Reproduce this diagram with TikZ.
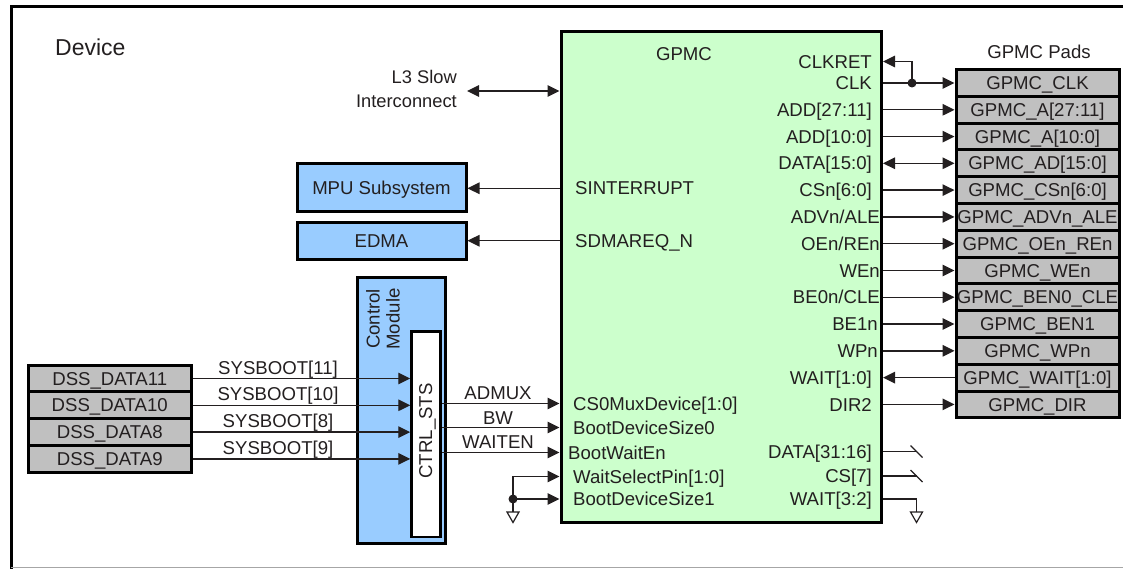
\documentclass[tikz,border=0pt]{standalone}
\usepackage{fontspec}
\setmainfont{Liberation Sans}
\usetikzlibrary{arrows.meta}
\definecolor{ink}{HTML}{231F20}
\definecolor{gpmcgreen}{HTML}{CCFFCC}
\definecolor{modblue}{HTML}{99CCFF}
\definecolor{padgray}{HTML}{C0C0C0}
\begin{document}
\begin{tikzpicture}[x=1pt,y=-1pt,
  font=\fontsize{18.6}{20}\selectfont, text=ink,
  lbl/.style={inner sep=0pt, text height=13.3pt, text depth=0pt},
  box/.style={draw=black, line width=3pt, inner sep=0pt, text height=13.3pt, text depth=0pt},
  pad/.style={box, fill=padgray, minimum width=163pt, minimum height=26.8pt},
  dss/.style={box, fill=padgray, minimum width=163.5pt, minimum height=26.8pt},
  wire/.style={draw=ink, line width=1.4pt},
  arr/.style={wire, -{Triangle[length=12pt,width=11.5pt]}},
  darr/.style={wire, {Triangle[length=12pt,width=11.5pt]}-{Triangle[length=12pt,width=11.5pt]}},
  gnd/.style={draw=ink, line width=1.2pt, fill=white},
  slash/.style={draw=ink, line width=1.2pt},
]
\useasboundingbox (0,0) rectangle (1123,569);
% device frame
\draw[line width=3pt] (1124,7) -- (11,7) -- (11,570);
\draw[black!35, line width=1.5pt] (11,567.5) -- (1124,567.5);
\node[inner sep=0pt, anchor=west, font=\fontsize{23}{25}\selectfont, text height=16.5pt, text depth=0pt] (dev) at (55,47) {Device};

% GPMC block
\node[box, fill=gpmcgreen, minimum width=320.5pt, minimum height=491pt] (gpmc) at (721.25,277) {};
\node[lbl] (gpmct) at (684,54) {GPMC};

% pads
\node[lbl] (padst) at (1039,52) {GPMC Pads};
\node[pad] (pclk)  at (1037.5,83.0)  {GPMC\_CLK};
\node[pad] (pa1)   at (1037.5,109.8) {GPMC\_A[27:11]};
\node[pad] (pa0)   at (1037.5,136.6) {GPMC\_A[10:0]};
\node[pad] (pad)   at (1037.5,163.3) {GPMC\_AD[15:0]};
\node[pad] (pcs)   at (1037.5,190.1) {GPMC\_CSn[6:0]};
\node[pad] (padv)  at (1037.5,216.9) {GPMC\_ADVn\_ALE};
\node[pad] (poe)   at (1037.5,243.7) {GPMC\_OEn\_REn};
\node[pad] (pwe)   at (1037.5,270.5) {GPMC\_WEn};
\node[pad] (pben0) at (1037.5,297.2) {GPMC\_BEN0\_CLE};
\node[pad] (pben1) at (1037.5,324.0) {GPMC\_BEN1};
\node[pad] (pwp)   at (1037.5,350.8) {GPMC\_WPn};
\node[pad] (pwait) at (1037.5,377.6) {GPMC\_WAIT[1:0]};
\node[pad] (pdir)  at (1037.5,404.4) {GPMC\_DIR};

% GPMC right pin labels
\node[lbl, anchor=east] (lclkret) at (872,61.5)  {CLKRET};
\node[lbl, anchor=east] (lclk)    at (872,83.0)  {CLK};
\node[lbl, anchor=east] (la1)     at (872,109.8) {ADD[27:11]};
\node[lbl, anchor=east] (la0)     at (872,136.6) {ADD[10:0]};
\node[lbl, anchor=east] (ld)      at (872,163.3) {DATA[15:0]};
\node[lbl, anchor=east] (lcs)     at (872,190.1) {CSn[6:0]};
\node[lbl, anchor=east] (ladv)    at (880,216.9) {ADVn/ALE};
\node[lbl, anchor=east] (loe)     at (880,243.7) {OEn/REn};
\node[lbl, anchor=east] (lwe)     at (880,270.5) {WEn};
\node[lbl, anchor=east] (lben0)   at (880,297.2) {BE0n/CLE};
\node[lbl, anchor=east] (lben1)   at (878,324.0) {BE1n};
\node[lbl, anchor=east] (lwp)     at (878,350.8) {WPn};
\node[lbl, anchor=east] (lwait)   at (872,377.6) {WAIT[1:0]};
\node[lbl, anchor=east] (ldir)    at (872,404.4) {DIR2};
\node[lbl, anchor=east] (ld2)     at (872,451.5) {DATA[31:16]};
\node[lbl, anchor=east] (lcs7)    at (872,476)   {CS[7]};
\node[lbl, anchor=east] (lw32)    at (872,499)   {WAIT[3:2]};

% right connectors
\coordinate (clkj) at (912,83);
\draw[arr] (gpmc.east |- pclk) -- (pclk.west);
\draw[arr] (clkj) |- (gpmc.east |- lclkret);
\fill[ink] (clkj) circle (4.5pt);
\draw[arr] (gpmc.east |- pa1) -- (pa1.west);
\draw[arr] (gpmc.east |- pa0) -- (pa0.west);
\draw[darr] (gpmc.east |- pad) -- (pad.west);
\draw[arr] (gpmc.east |- pcs) -- (pcs.west);
\draw[arr] (gpmc.east |- padv) -- (padv.west);
\draw[arr] (gpmc.east |- poe) -- (poe.west);
\draw[arr] (gpmc.east |- pwe) -- (pwe.west);
\draw[arr] (gpmc.east |- pben0) -- (pben0.west);
\draw[arr] (gpmc.east |- pben1) -- (pben1.west);
\draw[arr] (gpmc.east |- pwp) -- (pwp.west);
\draw[arr] (pwait.west) -- (gpmc.east |- pwait);
\draw[arr] (gpmc.east |- pdir) -- (pdir.west);

% unconnected outputs
\coordinate (sw1) at (916.5,451.5);
\coordinate (sw2) at (916.5,476);
\draw[wire] (gpmc.east |- sw1) -- (sw1);
\draw[slash] (sw1) ++(-6,-6) -- ++(12,12);
\draw[wire] (gpmc.east |- sw2) -- (sw2);
\draw[slash] (sw2) ++(-6,-6) -- ++(12,12);
\coordinate (rg) at (916.5,499);
\draw[wire] (gpmc.east |- lw32) -- (rg) -- ++(0,13) coordinate (g2);
\draw[gnd] (g2) ++(-6,0) -- ++(12,0) -- ++(-6,10.5) -- cycle;

% L3 interconnect
\node[inner sep=0pt, align=right, anchor=east, font=\fontsize{18.3}{24}\selectfont] (l3) at (457,89) {L3 Slow\\Interconnect};
\coordinate (l3end) at (467,91);
\draw[darr] (l3end) -- (gpmc.west |- l3end);

% MPU / EDMA
\node[box, fill=modblue, minimum width=169pt, minimum height=48pt] (mpu) at (381.5,187.5) {MPU Subsystem};
\node[box, fill=modblue, minimum width=169pt, minimum height=37pt] (edma) at (381.5,241) {EDMA};
\node[lbl, anchor=west] (sint) at (575,188.3) {SINTERRUPT};
\node[lbl, anchor=west] (sdma) at (575,240.7) {SDMAREQ\_N};
\draw[arr] (gpmc.west |- sint) -- (mpu.east |- sint);
\draw[arr] (gpmc.west |- sdma) -- (edma.east |- sdma);

% control module
\node[box, fill=modblue, minimum width=88pt, minimum height=266pt] (cm) at (401,410) {};
\node[inner sep=0pt, rotate=90, align=center] (cmt) at (383,319) {Control\\Module};
\node[draw=black, line width=2.5pt, fill=white, inner sep=0pt, minimum width=29pt, minimum height=205.5pt] (ctrl) at (426,434.25) {};
\node[lbl, rotate=90] (ctrlt) at (425.5,431) {CTRL\_STS};

% DSS pads
\node[dss] (d11) at (109.75,378.5) {DSS\_DATA11};
\node[dss] (d10) at (109.75,405.3) {DSS\_DATA10};
\node[dss] (d8)  at (109.75,432.1) {DSS\_DATA8};
\node[dss] (d9)  at (109.75,458.9) {DSS\_DATA9};
\node[lbl] (s11) at (278,367.5) {SYSBOOT[11]};
\node[lbl] (s10) at (278,394.2) {SYSBOOT[10]};
\node[lbl] (s8)  at (278,421)   {SYSBOOT[8]};
\node[lbl] (s9)  at (278,447.8) {SYSBOOT[9]};
\draw[arr] (d11.east) -- (d11.east -| ctrl.west);
\draw[arr] (d10.east) -- (d10.east -| ctrl.west);
\draw[arr] (d8.east) -- (d8.east -| ctrl.west);
\draw[arr] (d9.east) -- (d9.east -| ctrl.west);

% boot config into GPMC
\node[lbl] (admux) at (498,392.5) {ADMUX};
\node[lbl] (bw) at (498,417.5) {BW};
\node[lbl] (waiten) at (498,441.5) {WAITEN};
\node[lbl, anchor=west] (cs0) at (573,403.5) {CS0MuxDevice[1:0]};
\node[lbl, anchor=west] (bds0) at (573,427.5) {BootDeviceSize0};
\node[lbl, anchor=west] (bwe) at (568,452.5) {BootWaitEn};
\node[lbl, anchor=west] (wsp) at (573,476.5) {WaitSelectPin[1:0]};
\node[lbl, anchor=west] (bds1) at (573,499) {BootDeviceSize1};
\draw[arr] (ctrl.east |- cs0) -- (gpmc.west |- cs0);
\draw[arr] (ctrl.east |- bds0) -- (gpmc.west |- bds0);
\draw[arr] (ctrl.east |- bwe) -- (gpmc.west |- bwe);
\coordinate (gj) at (513,499);
\draw[arr] (gj) -- (gpmc.west |- bds1);
\draw[arr] (gj) |- (gpmc.west |- wsp);
\draw[wire] (gj) -- ++(0,13) coordinate (g1);
\fill[ink] (gj) circle (4.5pt);
\draw[gnd] (g1) ++(-6,0) -- ++(12,0) -- ++(-6,10.5) -- cycle;
\end{tikzpicture}
\end{document}
